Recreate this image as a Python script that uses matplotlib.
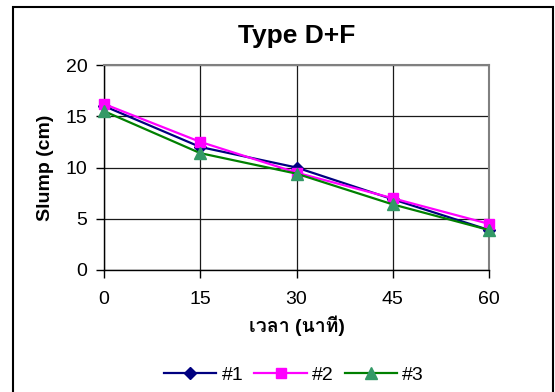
import matplotlib
matplotlib.use("Agg")
import matplotlib.pyplot as plt
from matplotlib import font_manager
from matplotlib.patches import Rectangle
from matplotlib.lines import Line2D
from fontTools.ttLib import TTFont

minutes = [0, 15, 30, 45, 60]
slump_1 = [16.0, 12.0, 10.0, 6.9, 3.9]
slump_2 = [16.2, 12.5, 9.5, 7.0, 4.5]
slump_3 = [15.5, 11.4, 9.4, 6.4, 3.9]
x_ticks = [0, 15, 30, 45, 60]
y_ticks = [0, 5, 10, 15, 20]


def find_thai_font():
    # look for any installed font that has Thai glyphs
    for f in font_manager.fontManager.ttflist:
        try:
            cmap = TTFont(f.fname, fontNumber=0, lazy=True).getBestCmap()
        except Exception:
            continue
        if cmap and 0x0E40 in cmap and 0x0E32 in cmap:
            return f.name
    return None


thai = find_thai_font()
plt.rcParams["font.family"] = ["Liberation Sans", "DejaVu Sans"]
thai_family = ["Liberation Sans"] + ([thai] if thai else []) + ["DejaVu Sans"]

fig = plt.figure(figsize=(5.55, 3.92), dpi=100)
ax = fig.add_axes([104 / 555, 1 - 270 / 392, 385 / 555, 205 / 392])

styles = [
    dict(color="#000080", marker="D", ms=6, mfc="#000080", mec="#000080"),
    dict(color="#FF00FF", marker="s", ms=7, mfc="#FF00FF", mec="#FF00FF"),
    dict(color="#008000", marker="^", ms=9, mfc="#339966", mec="#339966"),
]
for ys, st, name in zip([slump_1, slump_2, slump_3], styles, ["#1", "#2", "#3"]):
    ax.plot(minutes, ys, lw=1.6, label=name, clip_on=False, zorder=3, **st)

ax.set_xlim(0, 60)
ax.set_ylim(0, 20)
ax.set_xticks(x_ticks)
ax.set_yticks(y_ticks)
ax.grid(True, color="#1a1a1a", lw=0.9)
ax.tick_params(direction="out", length=6, width=1, labelsize=14)
ax.tick_params(axis="x", pad=9)
ax.tick_params(axis="y", pad=6)
for side in ["top", "right"]:
    ax.spines[side].set_color("#808080")
    ax.spines[side].set_linewidth(1.5)
for side in ["left", "bottom"]:
    ax.spines[side].set_color("black")
    ax.spines[side].set_linewidth(1)

ax.set_title("Type D+F", fontsize=19, fontweight="bold", pad=16)
ax.set_ylabel("Slump (cm)", fontsize=14, fontweight="bold", va="center")
ax.yaxis.set_label_coords((45 - 104) / 385, 0.5)
ax.set_xlabel("เวลา (นาที)", fontsize=14, fontweight="bold",
              family=thai_family, va="center")
ax.xaxis.set_label_coords(0.5, (270 - 326) / 205)

handles = [Line2D([], [], lw=1.6, **st) for st in styles]
fig.legend(handles, ["#1", "#2", "#3"], loc="center",
           bbox_to_anchor=(294 / 555, 1 - 375 / 392),
           ncol=3, frameon=False, fontsize=14, handlelength=2.7,
           handletextpad=0.26, columnspacing=0.57)

fig.patches.append(Rectangle((13 / 555, -0.05), 540 / 555, 1.05 - 7 / 392,
                             transform=fig.transFigure, fill=False,
                             edgecolor="black", lw=1.5, clip_on=False))

fig.savefig("out.png", dpi=100)
